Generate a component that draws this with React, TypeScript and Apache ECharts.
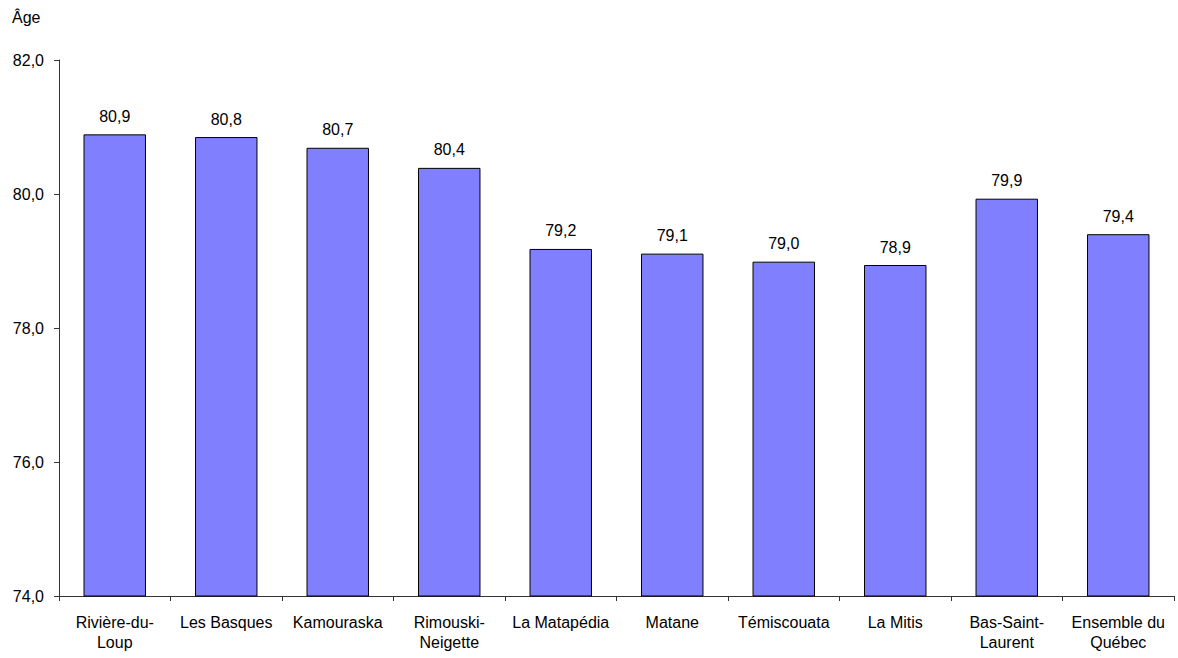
import React, { useEffect, useRef } from "react";
import * as echarts from "echarts";

const categories = [
  "Rivière-du-\nLoup",
  "Les Basques",
  "Kamouraska",
  "Rimouski-\nNeigette",
  "La Matapédia",
  "Matane",
  "Témiscouata",
  "La Mitis",
  "Bas-Saint-\nLaurent",
  "Ensemble du\nQuébec",
];
const values = [80.89, 80.85, 80.69, 80.39, 79.18, 79.11, 78.99, 78.94, 79.93, 79.4];
const yTitle = "Âge";
const yMin = 74;
const yMax = 82;
const yInterval = 2;

const fmt = (v: number) => v.toFixed(1).replace(".", ",");

export default function App() {
  const ref = useRef<HTMLDivElement>(null);
  useEffect(() => {
    if (!ref.current) return;
    const chart = echarts.init(ref.current, null, { renderer: "svg" });
    const font = "'Liberation Sans', Arial, sans-serif";
    chart.setOption({
      animation: false,
      textStyle: { fontFamily: font },
      graphic: [
        {
          type: "text",
          left: 12,
          top: 9,
          style: { text: yTitle, font: `16px ${font}`, fill: "#000" },
        },
      ],
      grid: { left: 59, right: 4, top: 60, bottom: 62 },
      xAxis: {
        type: "category",
        data: categories,
        axisLine: { lineStyle: { color: "#333", width: 1 } },
        axisTick: { show: true, alignWithLabel: false, length: 5, lineStyle: { color: "#333" } },
        axisLabel: {
          color: "#000",
          fontSize: 16,
          fontFamily: font,
          lineHeight: 20,
          margin: 16,
          interval: 0,
        },
      },
      yAxis: {
        type: "value",
        min: yMin,
        max: yMax,
        interval: yInterval,
        axisLine: { show: true, lineStyle: { color: "#333", width: 1 } },
        axisTick: { show: true, length: 5, lineStyle: { color: "#333" } },
        splitLine: { show: false },
        axisLabel: {
          color: "#000",
          fontSize: 16,
          fontFamily: font,
          margin: 15,
          formatter: (v: number) => fmt(v),
        },
      },
      series: [
        {
          type: "bar",
          data: values,
          barWidth: "56%",
          itemStyle: { color: "#8080FF", borderColor: "#000", borderWidth: 1 },
          label: {
            show: true,
            position: "top",
            distance: 10,
            color: "#000",
            fontSize: 16,
            fontFamily: font,
            formatter: (p: any) => fmt(p.value),
          },
        },
      ],
    });
    return () => chart.dispose();
  }, []);
  return <div ref={ref} style={{ width: 1178, height: 658, position: "absolute", left: 0, top: 0 }} />;
}
